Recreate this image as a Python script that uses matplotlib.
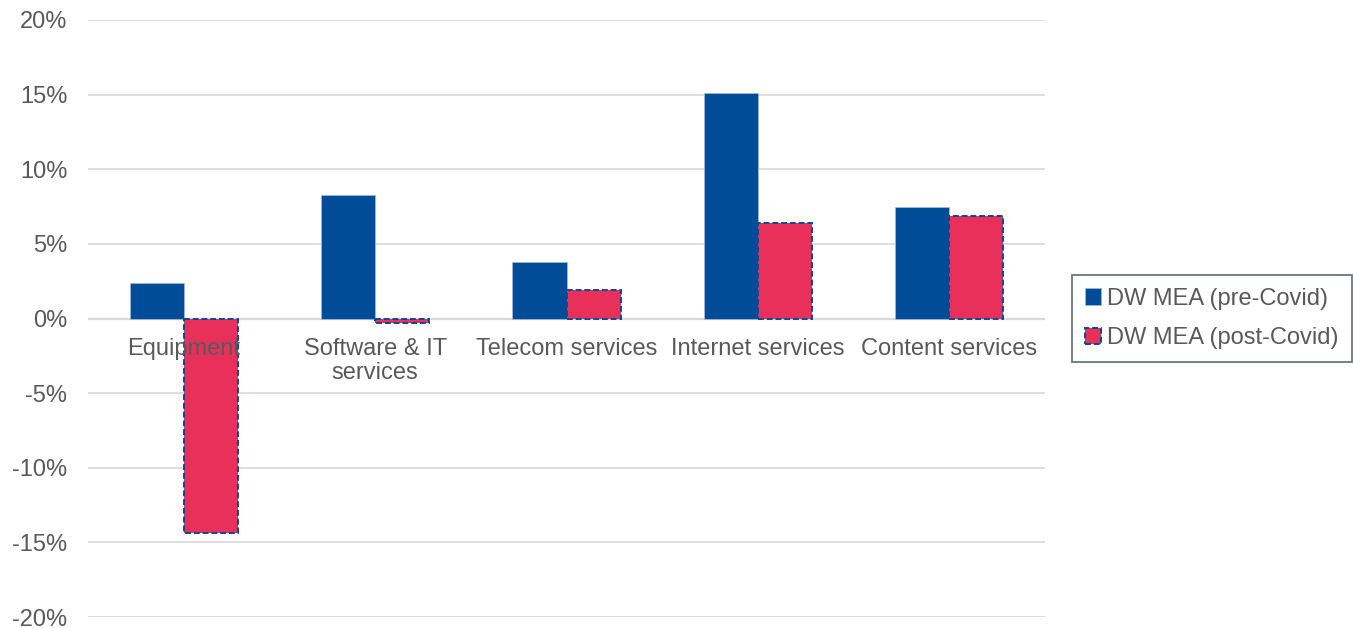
import numpy as np
import matplotlib.pyplot as plt
from matplotlib.ticker import FuncFormatter

plt.rcParams['font.family'] = ['Liberation Sans', 'DejaVu Sans']

categories = ['Equipment', 'Software & IT\nservices', 'Telecom services',
              'Internet services', 'Content services']
pre_covid = [2.4, 8.3, 3.8, 15.1, 7.5]
post_covid = [-14.4, -0.3, 1.9, 6.4, 6.9]

blue = '#004C99'
red = '#E8305A'
grey_text = '#595959'
grid_c = '#D9D9D9'

fig = plt.figure(figsize=(13.53, 6.28), dpi=100)
ax = fig.add_axes([88 / 1353, 11 / 628, (1045 - 88) / 1353, 597 / 628])

x = np.arange(len(categories))
w = 0.283
ax.bar(x - w / 2, pre_covid, w, color=blue, edgecolor='#9DB9D9', linewidth=0.6,
       label='DW MEA (pre-Covid)', zorder=3)
ax.bar(x + w / 2, post_covid, w, color=red, edgecolor=blue, linewidth=1.4,
       linestyle=(0, (3, 1.5)), label='DW MEA (post-Covid)', zorder=3)

ax.set_xlim(-0.5, len(categories) - 0.5)
ax.set_ylim(-20, 20)
ax.set_yticks(np.arange(-20, 21, 5))
ax.yaxis.set_major_formatter(FuncFormatter(lambda v, p: f'{v:.0f}%'))
ax.grid(axis='y', color=grid_c, linewidth=1.2, zorder=0)
ax.axhline(0, color=grid_c, linewidth=1.6, zorder=2)
ax.tick_params(axis='y', length=0, pad=15, labelsize=17, labelcolor=grey_text)
ax.set_xticks([])
for s in ax.spines.values():
    s.set_visible(False)

# category names sit just under the zero line
for i, c in enumerate(categories):
    ax.annotate(c, (i, 0), xytext=(0, -14), textcoords='offset points',
                ha='center', va='top', fontsize=17, color=grey_text,
                linespacing=1.1, zorder=4)

leg = ax.legend(loc='center left', bbox_to_anchor=(1.028, 0.5), fontsize=17,
                frameon=True, fancybox=False, handlelength=0.7, handleheight=0.7,
                handletextpad=0.25, borderpad=0.55, borderaxespad=0,
                labelspacing=0.75, labelcolor=grey_text)
leg.get_frame().set_edgecolor('#44546A')
leg.get_frame().set_linewidth(1.3)

fig.savefig('out.png', dpi=100)
